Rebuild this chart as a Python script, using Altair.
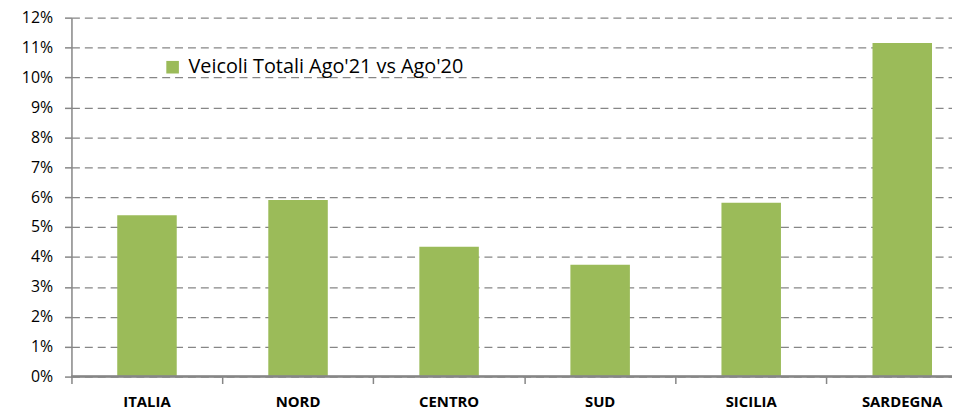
import altair as alt
import pandas as pd

regions = ["ITALIA", "NORD", "CENTRO", "SUD", "SICILIA", "SARDEGNA"]
values = [0.0539, 0.0590, 0.0434, 0.0374, 0.0581, 0.1115]
series = "Veicoli Totali Ago'21 vs Ago'20"
y_ticks = [i / 100 for i in range(0, 13)]

df = pd.DataFrame({"region": regions, "value": values, "series": [series] * len(regions)})

FONT = "Open Sans"
GRID = "#868686"

y_scale = alt.Scale(domain=[0, 0.12], nice=False)
y_axis = alt.Axis(values=y_ticks, format=".0%", labelFont=FONT, labelFontSize=16,
                  labelOverlap=False, labelColor="#000000", labelPadding=12,
                  tickSize=7, tickColor=GRID, tickWidth=1.5, domainColor=GRID,
                  domainWidth=1.5, grid=True, gridColor=GRID, gridDash=[8, 5],
                  gridWidth=1.3, gridOpacity=1)

bars = alt.Chart(df).mark_bar(width=60).encode(
    x=alt.X("region:N", sort=regions, title=None,
            scale=alt.Scale(range=[0, 914], paddingInner=0, paddingOuter=0),
            axis=alt.Axis(bandPosition=0, labelAngle=0, labelFont=FONT, labelFontSize=15,
                          labelFontWeight="bold", labelColor="#000000", labelPadding=11,
                          tickSize=7, tickColor=GRID, tickWidth=1.5, domain=False,
                          grid=False, labelBound=False)),
    y=alt.Y("value:Q", title=None, scale=y_scale, axis=y_axis),
    color=alt.Color("series:N", scale=alt.Scale(range=["#9BBB59"]),
                    legend=alt.Legend(title=None, orient="none", legendX=92, legendY=40,
                                      symbolType="square", symbolSize=161, symbolStrokeWidth=0,
                                      labelFont=FONT, labelFontSize=20, labelColor="#000000",
                                      labelLimit=500, labelOffset=6)),
)

baseline = alt.Chart(df).transform_calculate(zero="0").mark_rule(
    color=GRID, strokeWidth=1.5
).encode(y=alt.Y("zero:Q", title=None, scale=y_scale, axis=y_axis))

chart = alt.layer(bars, baseline).properties(
    width=888, height=362,
    autosize=alt.AutoSizeParams(type="none"),
    padding={"left": 64, "top": 8, "right": 0, "bottom": 35},
).configure_view(stroke=None)

chart.save("out.html", embed_options={"renderer": "svg", "actions": False})
